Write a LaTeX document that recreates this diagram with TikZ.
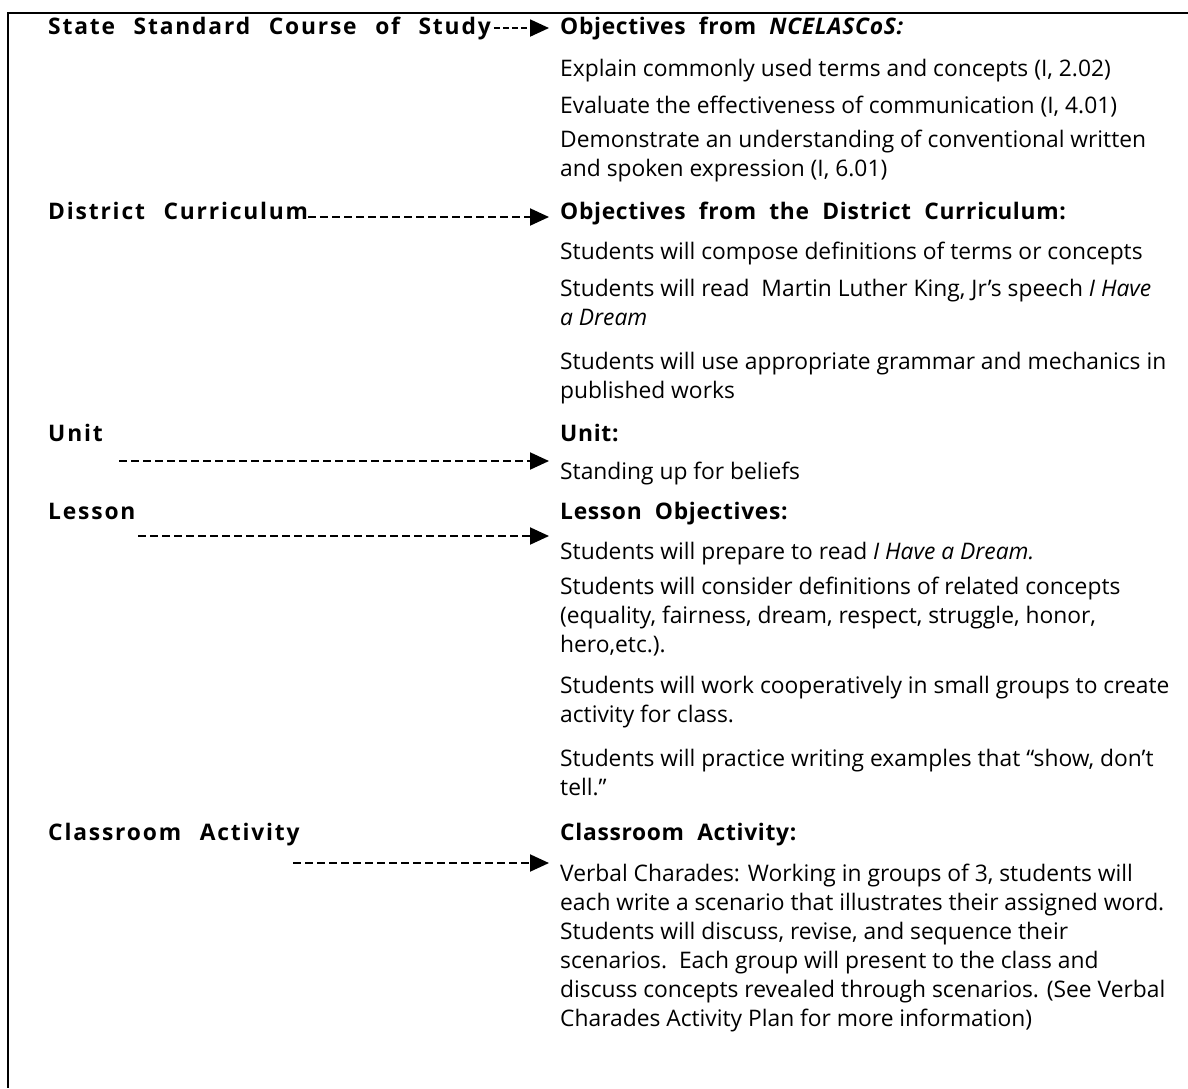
\documentclass[tikz,border=0pt]{standalone}
\usepackage{fontspec}
\setmainfont{Open Sans}
\newfontfamily\leftfont{Open Sans}[LetterSpace=8,WordSpace=2.4]
\newfontfamily\headfont{Open Sans}[LetterSpace=3,WordSpace=2]
\usetikzlibrary{arrows.meta}

\tikzset{
  lefttext/.style={anchor=base west, inner sep=0pt,
    font=\fontsize{22.8}{29}\leftfont\bfseries},
  headtext/.style={anchor=base west, inner sep=0pt,
    font=\fontsize{22.8}{29}\headfont\bfseries},
  bodytext/.style={anchor=north west, inner sep=0pt, align=left, yshift=20.3pt,
    font=\fontsize{22.8}{29}\selectfont, execute at begin node=\strut},
  pointer/.style={line width=2pt, dash pattern=on 8pt off 4pt,
    -{Triangle[length=19pt,width=17pt]}, shorten >=11pt}
}

\begin{document}
\begin{tikzpicture}[x=1pt,y=-1pt]
        \useasboundingbox (0,0) rectangle (1188,1088);
        \draw[line width=2pt] (1188,13) -- (8,13) -- (8,1088);

        % state standard
        \node[lefttext] (state) at (48,34) {State Standard Course of Study};
        \node[headtext] (stateobj) at (560,34) {Objectives from \textit{NCELASCoS:}};
        \node[bodytext] (ncel1) at (560,76) {Explain commonly used terms and concepts (I, 2.02)};
        \node[bodytext] (ncel2) at (560,113) {Evaluate the effectiveness of communication (I, 4.01)};
        \node[bodytext] (ncel3) at (560,150) {Demonstrate an understanding of conventional written\\and spoken expression (I, 6.01)};
        \draw[pointer, dash pattern=on 6pt off 3pt] ([xshift=3pt]state.east) -- (state.east -| stateobj.west);

        % district
        \node[lefttext] (district) at (48,219) {District Curriculum};
        \node[headtext] (distobj) at (560,219) {Objectives from the District Curriculum:};
        \node[bodytext] (dist1) at (560,259) {Students will compose definitions of terms or concepts};
        \node[bodytext] (dist2) at (560,299) {Students will read\ \ Martin Luther King, Jr's speech \textit{I Have}\\\textit{a Dream}};
        \node[bodytext] (dist3) at (560,372) {Students will use appropriate grammar and mechanics in\\published works};
        \draw[pointer] ([yshift=2pt]district.base east) -- ([yshift=2pt]district.base east -| distobj.west);

        % unit
        \node[lefttext] (unit) at (48,441) {Unit};
        \node[headtext] (unitobj) at (560,441) {Unit:};
        \node[bodytext] (unit1) at (560,479) {Standing up for beliefs};
        \coordinate (unitfrom) at (119,461);
        \draw[pointer] (unitfrom) -- (unitfrom -| unitobj.west);

        % lesson
        \node[lefttext] (lesson) at (48,519) {Lesson};
        \node[headtext] (lessonobj) at (560,519) {Lesson Objectives:};
        \node[bodytext] (les1) at (560,559) {Students will prepare to read \textit{I Have a Dream.}};
        \node[bodytext] (les2) at (560,597) {Students will consider definitions of related concepts\\(equality, fairness, dream, respect, struggle, honor,\\hero,etc.).};
        \node[bodytext] (les3) at (560,696) {Students will work cooperatively in small groups to create\\activity for class.};
        \node[bodytext] (les4) at (560,769) {Students will practice writing examples that “show, don't\\tell.”};
        \coordinate (lessonfrom) at (138,536);
        \draw[pointer] (lessonfrom) -- (lessonfrom -| lessonobj.west);

        % classroom activity
        \node[lefttext] (activity) at (48,840) {Classroom Activity};
        \node[headtext] (actobj) at (560,840) {Classroom Activity:};
        \node[bodytext] (act1) at (560,884) {Verbal Charades: Working in groups of 3, students will\\each write a scenario that illustrates their assigned word.\\Students will discuss, revise, and sequence their\\scenarios.\ \ Each group will present to the class and\\discuss concepts revealed through scenarios. (See Verbal\\Charades Activity Plan for more information)};
        \coordinate (activityfrom) at (293,863);
        \draw[pointer] (activityfrom) -- (activityfrom -| actobj.west);
\end{tikzpicture}
\end{document}
